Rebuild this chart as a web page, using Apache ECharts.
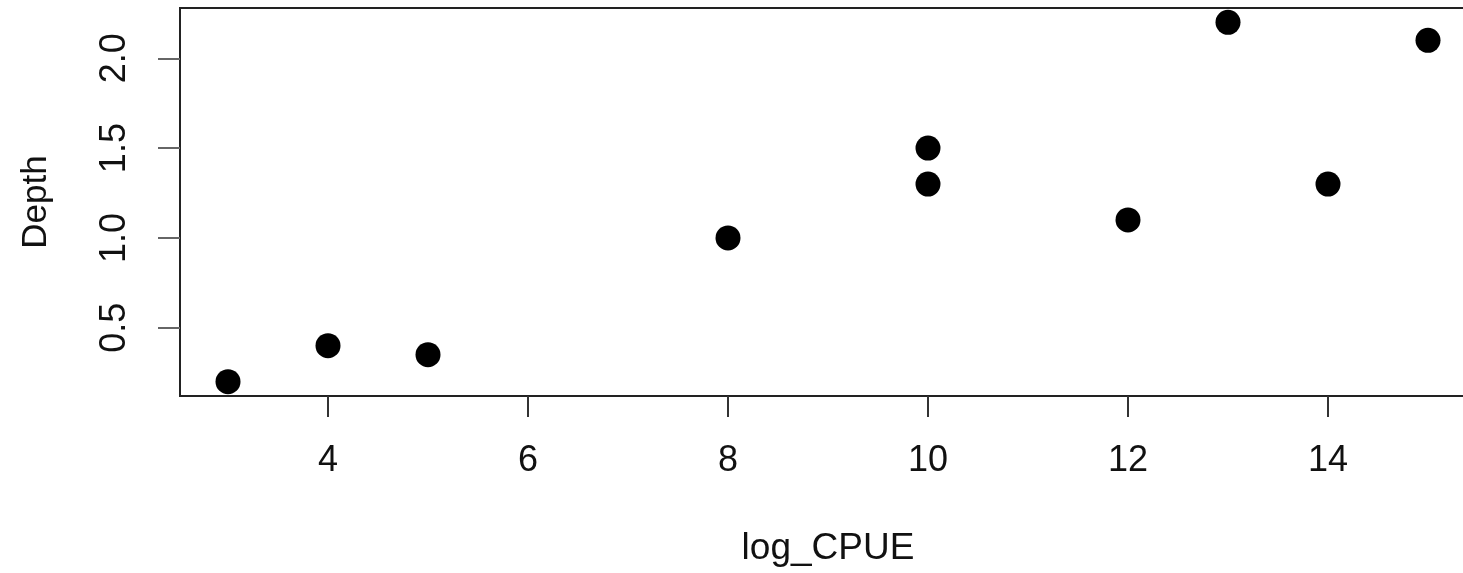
<!DOCTYPE html>
<html>
<head>
<meta charset="utf-8">
<script src="https://cdn.jsdelivr.net/npm/echarts@6/dist/echarts.min.js"></script>
<style>
  html, body { margin: 0; padding: 0; background: #fff; }
  #chart { width: 1463px; height: 573px; }
</style>
</head>
<body>
<div id="chart"></div>
<script>
// data
const logCpue = [3, 4, 5, 8, 10, 10, 12, 13, 14, 15]
const depth = [0.2, 0.4, 0.35, 1.0, 1.5, 1.3, 1.1, 2.2, 1.3, 2.1]
const xTicks = [4, 6, 8, 10, 12, 14]
const yTicks = [0.5, 1.0, 1.5, 2.0]

const points = logCpue.map((x, i) => [x, depth[i]])
const font = '"Liberation Sans", Arial, sans-serif'

const chart = echarts.init(document.getElementById('chart'))
const option = {
  animation: false,
  backgroundColor: '#fff',
  grid: {
    left: 180,
    top: 8,
    width: 1296,
    height: 388,
    outerBoundsMode: 'none',
    containLabel: false,
    show: true,
    borderColor: '#222',
    borderWidth: 2,
  },
  xAxis: {
    type: 'value',
    min: 2.52,
    max: 15.48,
    name: 'log_CPUE',
    nameLocation: 'middle',
    nameGap: 134,
    nameTextStyle: { fontFamily: font, fontSize: 37, color: '#111' },
    axisLine: { show: false },
    splitLine: { show: false },
    axisTick: {
      show: true,
      customValues: xTicks,
      length: 21,
      lineStyle: { color: '#333', width: 2 },
    },
    axisLabel: {
      customValues: xTicks,
      margin: 47,
      fontFamily: font,
      fontSize: 36,
      color: '#111',
    },
  },
  yAxis: {
    type: 'value',
    min: 0.12,
    max: 2.28,
    name: 'Depth',
    nameLocation: 'middle',
    nameGap: 126,
    nameRotate: 90,
    nameTextStyle: { fontFamily: font, fontSize: 35, color: '#111' },
    axisLine: { show: false },
    splitLine: { show: false },
    axisTick: {
      show: true,
      customValues: yTicks,
      length: 22,
      lineStyle: { color: '#666', width: 2 },
    },
    axisLabel: {
      customValues: yTicks,
      rotate: 90,
      margin: 47,
      fontFamily: font,
      fontSize: 36,
      color: '#111',
      formatter: (v) => v.toFixed(1),
    },
  },
  series: [
    {
      type: 'scatter',
      data: points,
      symbol: 'circle',
      symbolSize: 25,
      itemStyle: { color: '#000', opacity: 1 },
    },
  ],
}
chart.setOption(option)
</script>
</body>
</html>
